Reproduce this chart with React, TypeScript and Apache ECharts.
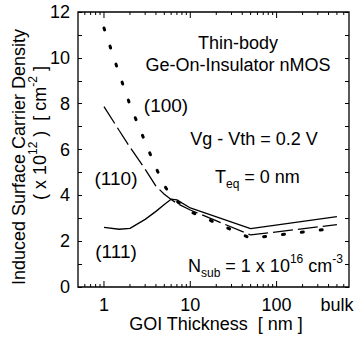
import React, { useEffect, useRef } from "react";
import * as echarts from "echarts";

// GOI body thickness [nm]; the last entry stands for the bulk device.
const THICKNESS_NM = [1, 1.5, 2, 3, 4, 5, 6, 7, 10, 50, 500];
const BULK_NM = 500;

// Induced surface carrier density (x 1e12 cm^-2) per orientation.
const N_100 = [11.3, 9.3, 7.95, 6.33, 5.2, 4.43, 3.97, 3.74, 3.29, 2.13, 2.57];
const N_110 = [7.87, 6.83, 6.1, 5.14, 4.4, 4.05, 3.82, 3.65, 3.36, 2.27, 2.72];
const N_111 = [2.6, 2.52, 2.56, 2.95, 3.3, 3.6, 3.83, 3.8, 3.45, 2.55, 3.07];

// Log-axis tick positions.
const X_MAJOR_TICKS = [1, 10, 100];
const X_MINOR_TICKS = [
  0.6, 0.7, 0.8, 0.9,
  2, 3, 4, 5, 6, 7, 8, 9,
  20, 30, 40, 50, 60, 70, 80, 90,
  200, 300, 400, 500, 600,
];
const X_MIN = 0.5;
const X_MAX = 690;
const Y_MIN = 0;
const Y_MAX = 12;

const FONT = "'Liberation Sans', Arial, Helvetica, sans-serif";
const BLACK = "#000";

const richStyles = {
  n: { fontSize: 18, fontFamily: FONT, lineHeight: 26, fill: BLACK, color: BLACK },
  sub: { fontSize: 12, fontFamily: FONT, lineHeight: 12, verticalAlign: "bottom", fill: BLACK, color: BLACK },
  sup: { fontSize: 12, fontFamily: FONT, lineHeight: 12, verticalAlign: "top", fill: BLACK, color: BLACK },
};

function pairs(ys: number[]) {
  return THICKNESS_NM.map((t, i) => [t, ys[i]]);
}

function isDecade(v: number) {
  const l = Math.log10(v);
  return Math.abs(l - Math.round(l)) < 1e-6 && v >= 1 && v <= 100;
}

export default function App() {
  const ref = useRef<HTMLDivElement>(null);

  useEffect(() => {
    if (!ref.current) return;
    const chart = echarts.init(ref.current, undefined, { renderer: "svg" });

    const tickData = [
      ...X_MAJOR_TICKS.map((v) => [v, 1]),
      ...X_MINOR_TICKS.map((v) => [v, 0]),
    ];

    const text = (x: number, y: number, t: string, extra: any = {}) => ({
      type: "text",
      x,
      y,
      silent: true,
      style: {
        text: t,
        fontSize: 18,
        fontFamily: FONT,
        fill: BLACK,
        align: "center",
        verticalAlign: "middle",
        ...extra,
      },
    });

    const yAxisBase = {
      type: "value",
      min: Y_MIN,
      max: Y_MAX,
      interval: 1,
      splitLine: { show: false },
      axisLine: { show: false },
      axisTick: { show: true, inside: true, length: 4, lineStyle: { color: BLACK, width: 1 } },
    };

    chart.setOption({
      animation: false,
      backgroundColor: "#fff",
      grid: {
        left: 78,
        right: 7,
        top: 12,
        bottom: 53,
        show: true,
        borderColor: BLACK,
        borderWidth: 1.3,
        backgroundColor: "transparent",
      },
      xAxis: {
        type: "log",
        logBase: 10,
        min: X_MIN,
        max: X_MAX,
        splitLine: { show: false },
        axisLine: { show: false },
        axisTick: { show: false },
        axisLabel: {
          margin: 9,
          fontSize: 18,
          fontFamily: FONT,
          color: BLACK,
          showMinLabel: true,
          showMaxLabel: true,
          formatter: (v: number) => (isDecade(v) ? String(Math.round(v)) : ""),
        },
      },
      yAxis: [
        {
          ...yAxisBase,
          position: "left",
          axisLabel: {
            margin: 8,
            fontSize: 18,
            fontFamily: FONT,
            color: BLACK,
            formatter: (v: number) => (v % 2 === 0 ? String(v) : ""),
          },
        },
        {
          ...yAxisBase,
          position: "right",
          axisLabel: { show: false },
        },
      ],
      series: [
        {
          name: "(100)",
          type: "line",
          data: pairs(N_100),
          showSymbol: false,
          lineStyle: { color: BLACK, width: 3, type: [2, 17], cap: "round" },
          z: 3,
        },
        {
          name: "(110)",
          type: "line",
          data: pairs(N_110),
          showSymbol: false,
          lineStyle: { color: BLACK, width: 1.3, type: [20, 5] },
          z: 3,
        },
        {
          name: "(111)",
          type: "line",
          data: pairs(N_111),
          showSymbol: false,
          lineStyle: { color: BLACK, width: 1.3 },
          z: 3,
        },
        {
          // inward log ticks on the bottom and top edges of the frame
          type: "custom",
          silent: true,
          data: tickData,
          encode: { x: 0 },
          renderItem: (_p: any, api: any) => {
            const v = api.value(0);
            const len = api.value(1) === 1 ? 6 : 3;
            const b = api.coord([v, Y_MIN]);
            const t = api.coord([v, Y_MAX]);
            const style = { stroke: BLACK, lineWidth: 1 };
            return {
              type: "group",
              children: [
                { type: "line", shape: { x1: b[0], y1: b[1], x2: b[0], y2: b[1] - len }, style },
                { type: "line", shape: { x1: t[0], y1: t[1], x2: t[0], y2: t[1] + len }, style },
              ],
            };
          },
          z: 5,
        },
        {
          // "bulk" category label under the axis
          type: "custom",
          silent: true,
          data: [[BULK_NM, Y_MIN]],
          renderItem: (_p: any, api: any) => {
            const p = api.coord([api.value(0), api.value(1)]);
            return {
              type: "text",
              x: p[0],
              y: p[1] + 9,
              style: {
                text: "bulk",
                fontSize: 18,
                fontFamily: FONT,
                fill: BLACK,
                align: "center",
                verticalAlign: "top",
              },
            };
          },
          z: 5,
        },
      ],
      graphic: [
        text(238, 54, "Thin-body\nGe-On-Insulator nMOS", { lineHeight: 22 }),
        text(166, 105, "(100)", { fontSize: 19 }),
        text(116, 178, "(110)", { fontSize: 19 }),
        text(116, 251, "(111)", { fontSize: 19 }),
        text(254, 139, "Vg - Vth = 0.2 V"),
        text(215, 177, "{n|T}{sub|eq}{n| = 0 nm}", { align: "left", rich: richStyles }),
        text(188, 266, "{n|N}{sub|sub}{n| = 1 x 10}{sup|16}{n| cm}{sup|-3}", {
          align: "left",
          rich: richStyles,
        }),
        text(216, 324, "GOI Thickness  [ nm ]"),
        {
          ...text(19, 157, "Induced Surface Carrier Density"),
          rotation: Math.PI / 2,
        },
        {
          ...text(40, 133, "{n|( x 10}{sup|12}{n| )  [ cm}{sup|-2}{n| ]}", { rich: richStyles }),
          rotation: Math.PI / 2,
        },
      ],
    });

    return () => chart.dispose();
  }, []);

  return (
    <div
      ref={ref}
      style={{ position: "fixed", left: 0, top: 0, width: 356, height: 340 }}
    />
  );
}
